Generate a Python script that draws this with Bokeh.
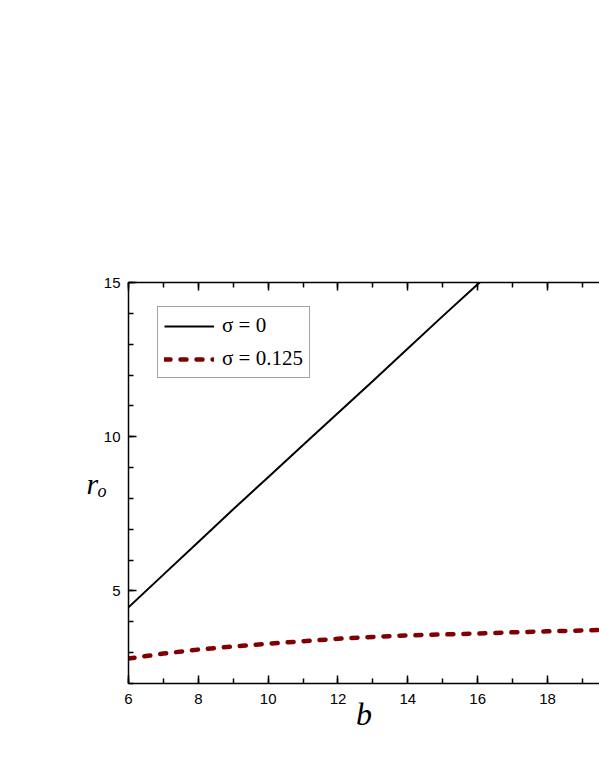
from bokeh.plotting import figure
from bokeh.models import (LinearAxis, SingleIntervalTicker, Legend, LegendItem, Range1d)
from bokeh.embed import file_html
from bokeh.resources import INLINE

# data
b_solid = [6, 7, 8, 9, 10, 11, 12, 13, 14, 15, 16, 16.06]
r_solid = [4.47, 5.53, 6.59, 7.65, 8.69, 9.73, 10.77, 11.81, 12.86, 13.91, 14.94, 15.0]
b_dash = [6, 7, 8, 9, 10, 11, 12, 13, 14, 15, 16, 17, 18, 19, 20]
r_dash = [2.81, 2.97, 3.10, 3.20, 3.29, 3.37, 3.45, 3.51, 3.56, 3.59, 3.62, 3.66, 3.69, 3.72, 3.75]
label_solid = "σ = 0"
label_dash = "σ = 0.125"
x_label = "b"
y_label = "rₒ"

p = figure(width=599, height=776, output_backend="svg", toolbar_location=None,
           x_range=Range1d(6, 19.49), y_range=Range1d(2, 15),
           min_border_left=128, min_border_right=0, min_border_top=282, min_border_bottom=93,
           x_axis_location=None, y_axis_location=None)
p.outline_line_color = None
p.grid.visible = False
p.background_fill_color = "white"
p.border_fill_color = "white"

def style_axis(ax, labels=True, standoff=8):
    ax.axis_line_width = 1.5
    ax.axis_line_color = "black"
    ax.major_tick_in = 8
    ax.major_tick_out = 0
    ax.minor_tick_in = 5
    ax.minor_tick_out = 0
    ax.major_tick_line_width = 1.5
    ax.minor_tick_line_width = 1.5
    ax.major_tick_line_color = "black"
    ax.minor_tick_line_color = "black"
    ax.major_label_text_font = "Liberation Sans"
    ax.major_label_text_font_size = "15px"
    ax.major_label_text_color = "black"
    ax.major_label_standoff = standoff
    ax.axis_label_text_font = "Liberation Serif"
    ax.axis_label_text_font_style = "italic"
    ax.axis_label_text_color = "black"
    if not labels:
        ax.major_label_text_font_size = "0px"
        ax.major_label_text_color = None

xb = LinearAxis(ticker=SingleIntervalTicker(interval=2, num_minor_ticks=2))
style_axis(xb, standoff=10)
xb.axis_label = x_label
xb.axis_label_text_font_size = "32px"
xb.axis_label_standoff = -11
p.add_layout(xb, "below")
xt = LinearAxis(ticker=SingleIntervalTicker(interval=2, num_minor_ticks=2))
style_axis(xt, labels=False)
p.add_layout(xt, "above")
yl = LinearAxis(ticker=SingleIntervalTicker(interval=5, num_minor_ticks=5))
style_axis(yl, standoff=8)
yl.axis_label = y_label
yl.axis_label_orientation = "horizontal"
yl.axis_label_text_font_size = "30px"
yl.axis_label_standoff = -6
p.add_layout(yl, "left")

r1 = p.line(b_solid, r_solid, line_color="black", line_width=2)
r2 = p.line(b_dash, r_dash, line_color="#800000", line_width=4.5, line_dash="6 10", line_cap="round")

legend = Legend(items=[LegendItem(label=label_solid, renderers=[r1]),
                       LegendItem(label=label_dash, renderers=[r2])],
                location=(29, 305), margin=0, padding=6, spacing=8,
                glyph_width=50, glyph_height=24, label_height=24, label_standoff=8,
                label_text_font="Liberation Serif", label_text_font_size="21px",
                label_text_color="black",
                border_line_color="#444444", border_line_width=1,
                background_fill_color="white", background_fill_alpha=1)
p.add_layout(legend, "center")

open("out.html", "w").write(file_html(p, INLINE))
